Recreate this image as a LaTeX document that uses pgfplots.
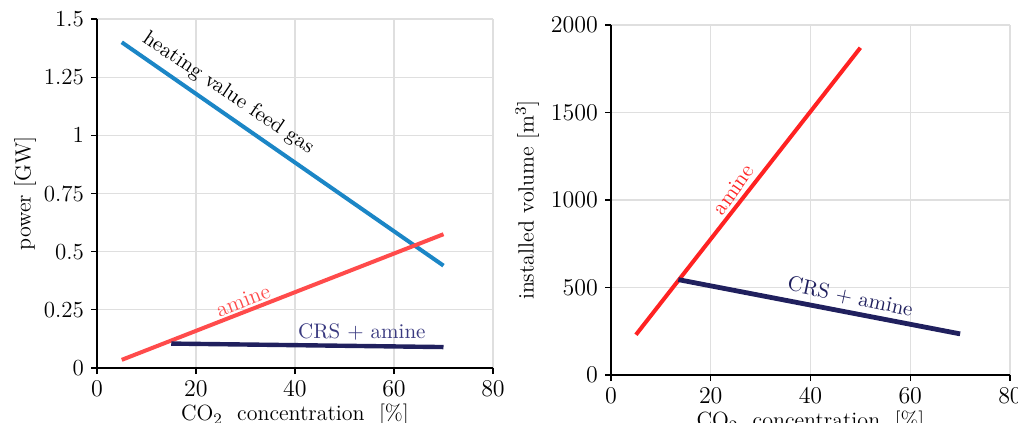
\documentclass[border=0pt]{standalone}
\usepackage{pgfplots}
\pgfplotsset{compat=1.18}
\definecolor{cblue}{HTML}{1B86C6}
\definecolor{cred}{HTML}{FF4B4B}
\definecolor{cred2}{HTML}{FF2222}
\definecolor{cnavy}{HTML}{20205E}
\definecolor{ctext}{HTML}{3A3A80}
\pgfplotsset{
  common/.style={
    scale only axis,
    anchor=south west,
    width=198pt,
    axis x line*=bottom, axis y line*=left,
    axis line style={black, line width=1pt},
    xmin=0, xmax=80, xtick={0,20,40,60,80},
    grid=major,
    grid style={gray!25, line width=0.6pt},
    tick style={black, line width=0.6pt},
    major tick length=3pt,
    tick align=outside,
    ticklabel style={font=\fontsize{11.5}{13}\selectfont},
    label style={font=\fontsize{11}{13}\selectfont},
    xlabel={CO$_2$\ \ concentration\ \ [\%]},
    xlabel style={yshift=3pt},
    clip=false,
  }
}
\begin{document}
\begin{tikzpicture}
\useasboundingbox (0,0) rectangle (509pt,-211.5pt);
\begin{axis}[common, at={(48.5pt,-184pt)}, height=174.5pt,
  ymin=0, ymax=1.5, ytick={0,0.25,0.5,0.75,1,1.25,1.5},
  yticklabels={0,0.25,0.5,0.75,1,1.25,1.5},
  ylabel={power [GW]}, ylabel style={yshift=-3pt}]
\addplot[cblue, line width=2pt] coordinates {(5,1.40) (70,0.44)};
\addplot[cred, line width=2pt] coordinates {(5,0.035) (70,0.575)};
\addplot[cnavy, line width=2.2pt] coordinates {(15,0.105) (70,0.09)};
\node[rotate=-34, font=\fontsize{10.5}{12}\selectfont] at (axis cs:26.5,1.18) {heating value feed gas};
\node[rotate=21, text=cred, font=\fontsize{11}{12}\selectfont] at (axis cs:29.5,0.29) {amine};
\node[text=ctext, font=\fontsize{10.5}{12}\selectfont] at (axis cs:53.5,0.155) {CRS + amine};
\end{axis}
\begin{axis}[common, at={(305.5pt,-187.5pt)}, width=199.5pt, height=175pt,
  ymin=0, ymax=2000, ytick={0,500,1000,1500,2000},
  scaled y ticks=false,
  yticklabel style={/pgf/number format/set thousands separator={}},
  ylabel={installed volume [m$^3$]}, ylabel style={yshift=-1pt}]
\addplot[cred2, line width=2pt] coordinates {(5,230) (50,1870)};
\addplot[cnavy, line width=2.4pt] coordinates {(13.5,545) (70,235)};
\node[rotate=55, text=cred2, font=\fontsize{11}{12}\selectfont] at (axis cs:24.5,1060) {amine};
\node[rotate=-12, text=cnavy, font=\fontsize{10.5}{12}\selectfont] at (axis cs:48,447) {CRS + amine};
\end{axis}
\end{tikzpicture}
\end{document}
